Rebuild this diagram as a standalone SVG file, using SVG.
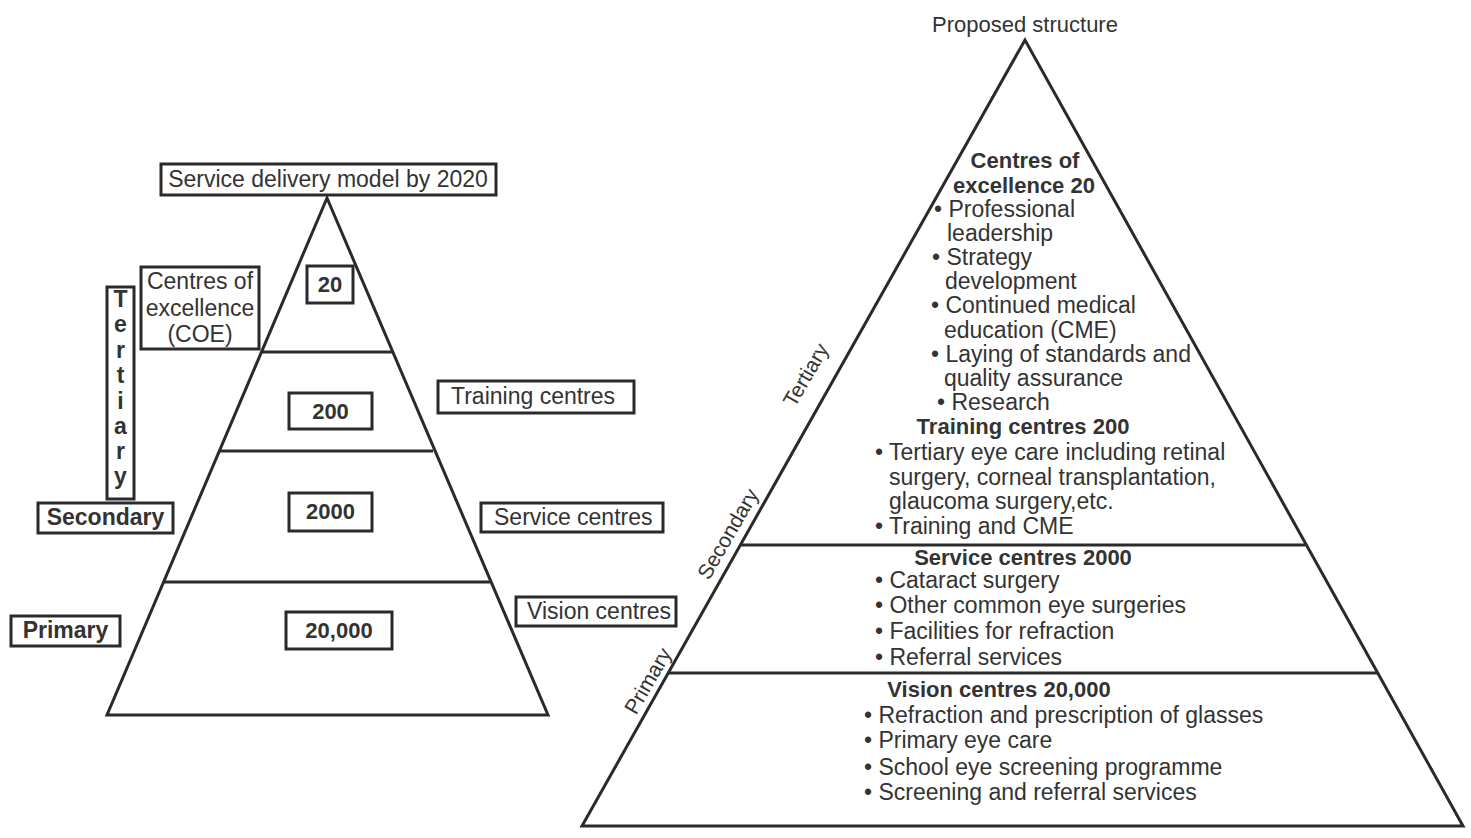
<svg xmlns="http://www.w3.org/2000/svg" width="1471" height="838" viewBox="0 0 1471 838">
<style>
text{font-family:"Liberation Sans",Arial,sans-serif;fill:#333;font-size:23px}
.b{font-weight:bold}
.h{font-weight:bold;font-size:22px}
.m{text-anchor:middle}
.box{fill:#fff;stroke:#2a2a2a;stroke-width:3}
.ln{fill:none;stroke:#2a2a2a;stroke-width:3;stroke-linejoin:miter}
.rt{font-size:21px}
</style>
<rect width="1471" height="838" fill="#fff"/>

<g id="left-pyramid">
<polygon class="ln" points="327,198 107,715 548,715"/>
<line class="ln" x1="262" y1="352" x2="392" y2="352"/>
<line class="ln" x1="220" y1="451" x2="433" y2="451"/>
<line class="ln" x1="164" y1="582" x2="490" y2="582"/>
</g>

<g id="left-title">
<rect class="box" x="161" y="164" width="335" height="31"/>
<text class="m" x="328" y="187">Service delivery model by 2020</text>
</g>
<g id="n20">
<rect class="box" x="307" y="266" width="46" height="37"/>
<text class="h m" x="330" y="292">20</text>
</g>
<g id="n200">
<rect class="box" x="289" y="393" width="83" height="36"/>
<text class="h m" x="330.5" y="419">200</text>
</g>
<g id="n2000">
<rect class="box" x="289" y="493" width="83" height="38"/>
<text class="h m" x="330.5" y="519">2000</text>
</g>
<g id="n20000">
<rect class="box" x="286" y="612" width="106" height="37"/>
<text class="h m" x="339" y="638">20,000</text>
</g>
<g id="coe-label">
<rect class="box" x="141" y="267" width="118" height="82"/>
<text class="m" x="200" y="289">Centres of</text>
<text class="m" x="200" y="316">excellence</text>
<text class="m" x="200" y="342">(COE)</text>
</g>
<g id="tertiary-label">
<rect class="box" x="107" y="287" width="27" height="212"/>
<text class="b m" x="120.5" y="307">T</text>
<text class="b m" x="120.5" y="332">e</text>
<text class="b m" x="120.5" y="358">r</text>
<text class="b m" x="120.5" y="383">t</text>
<text class="b m" x="120.5" y="409">i</text>
<text class="b m" x="120.5" y="434">a</text>
<text class="b m" x="120.5" y="459">r</text>
<text class="b m" x="120.5" y="484">y</text>
</g>
<g id="secondary-label">
<rect class="box" x="38" y="503" width="135" height="30"/>
<text class="b m" x="105.5" y="525">Secondary</text>
</g>
<g id="primary-label">
<rect class="box" x="11" y="616" width="109" height="30"/>
<text class="b m" x="65.5" y="638">Primary</text>
</g>
<g id="training-label">
<rect class="box" x="438" y="381" width="196" height="32"/>
<text x="451" y="404">Training centres</text>
</g>
<g id="service-label">
<rect class="box" x="481" y="503" width="182" height="29"/>
<text x="494" y="525">Service centres</text>
</g>
<g id="vision-label">
<rect class="box" x="516" y="597" width="160" height="29"/>
<text x="527" y="619">Vision centres</text>
</g>

<g id="right-pyramid">
<polygon class="ln" points="1025,40 582,826 1463,826"/>
<line class="ln" x1="741" y1="545" x2="1305" y2="545"/>
<line class="ln" x1="668" y1="673" x2="1377" y2="673"/>
</g>

<g id="right-title">
<text class="m" x="1025" y="32" style="font-size:22px">Proposed structure</text>
</g>
<g id="tier-labels">
<text class="rt m" transform="translate(806,375) rotate(-60)" y="7">Tertiary</text>
<text class="rt m" transform="translate(728,534) rotate(-60)" y="7">Secondary</text>
<text class="rt m" transform="translate(648,681) rotate(-60)" y="7">Primary</text>
</g>
<g id="coe-section">
<text class="h m" x="1025" y="168">Centres of</text>
<text class="h m" x="1024" y="193">excellence 20</text>
<text x="934" y="217">• Professional</text>
<text x="947" y="241">leadership</text>
<text x="932" y="265">• Strategy</text>
<text x="945" y="289">development</text>
<text x="931" y="313">• Continued medical</text>
<text x="944" y="338">education (CME)</text>
<text x="931" y="362">• Laying of standards and</text>
<text x="944" y="386">quality assurance</text>
<text x="937" y="410">• Research</text>
</g>
<g id="training-section">
<text class="h m" x="1023" y="434">Training centres 200</text>
<text x="875" y="460">• Tertiary eye care including retinal</text>
<text x="889" y="485">surgery, corneal transplantation,</text>
<text x="889" y="509">glaucoma surgery,etc.</text>
<text x="875" y="534">• Training and CME</text>
</g>
<g id="service-section">
<text class="h m" x="1023" y="565">Service centres 2000</text>
<text x="875" y="588">• Cataract surgery</text>
<text x="875" y="613">• Other common eye surgeries</text>
<text x="875" y="639">• Facilities for refraction</text>
<text x="875" y="665">• Referral services</text>
</g>
<g id="vision-section">
<text class="h m" x="999" y="697">Vision centres 20,000</text>
<text x="864" y="723">• Refraction and prescription of glasses</text>
<text x="864" y="748">• Primary eye care</text>
<text x="864" y="775">• School eye screening programme</text>
<text x="864" y="800">• Screening and referral services</text>
</g>
<g id="connectors"></g>
</svg>
